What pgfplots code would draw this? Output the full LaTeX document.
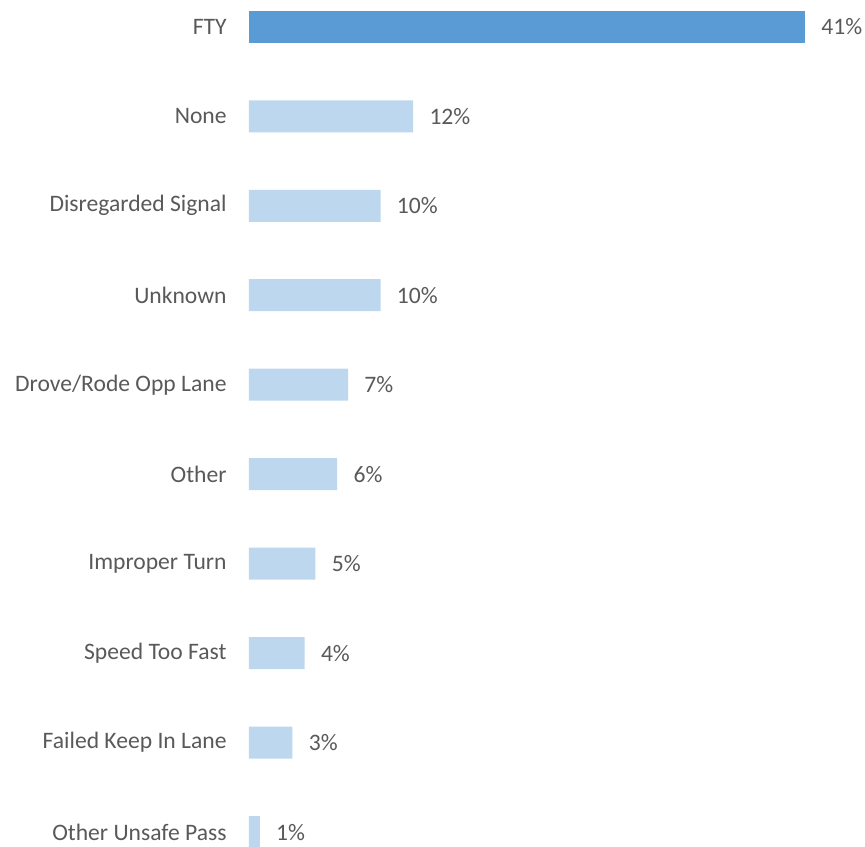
\documentclass[border=0pt]{standalone}
\usepackage{pgfplots}
\pgfplotsset{compat=1.18}
\usepackage{fontspec}
\setmainfont{Carlito}
\definecolor{darkbar}{HTML}{5B9BD5}
\definecolor{lightbar}{HTML}{BDD7EE}
\definecolor{txt}{HTML}{595959}
\begin{document}
\begin{tikzpicture}
\begin{axis}[
    name=ax,
    scale only axis,
    width=308pt,
    height=421pt,
    xmin=0, xmax=45.42,
    ymin=-0.111, ymax=9.30,
    hide x axis,
    axis y line*=left,
    y axis line style={draw=none},
    xbar,
    bar width=16pt,
    bar shift=0pt,
    ytick={0,...,9},
    yticklabels={Other Unsafe Pass,Failed Keep In Lane,Speed Too Fast,Improper Turn,Other,Drove/Rode Opp Lane,Unknown,Disregarded Signal,None,FTY},
    major tick length=0pt,
    yticklabel style={anchor=east, inner sep=0pt, xshift=-11pt, font=\fontsize{11.8}{14}\selectfont, text=txt},
    clip=false,
    point meta=explicit symbolic,
    nodes near coords={\pgfplotspointmeta\%},
    nodes near coords style={anchor=west, inner sep=0pt, xshift=8pt, font=\fontsize{11.8}{14}\selectfont, text=txt},
]
\addplot[draw=none, fill=darkbar] table[x=v, y=i, meta=lab] {
i v lab
9 41 41
};
\addplot[draw=none, fill=lightbar] table[x=v, y=i, meta=lab] {
i v lab
8 12.1 12
7 9.7 10
6 9.7 10
5 7.3 7
4 6.5 6
3 4.9 5
2 4.1 4
1 3.2 3
0 0.8 1
};
\end{axis}
\pgfresetboundingbox
\path[use as bounding box] ([xshift=-124.5pt,yshift=-2.5pt]ax.south west) rectangle (ax.north east);
\end{tikzpicture}
\end{document}
